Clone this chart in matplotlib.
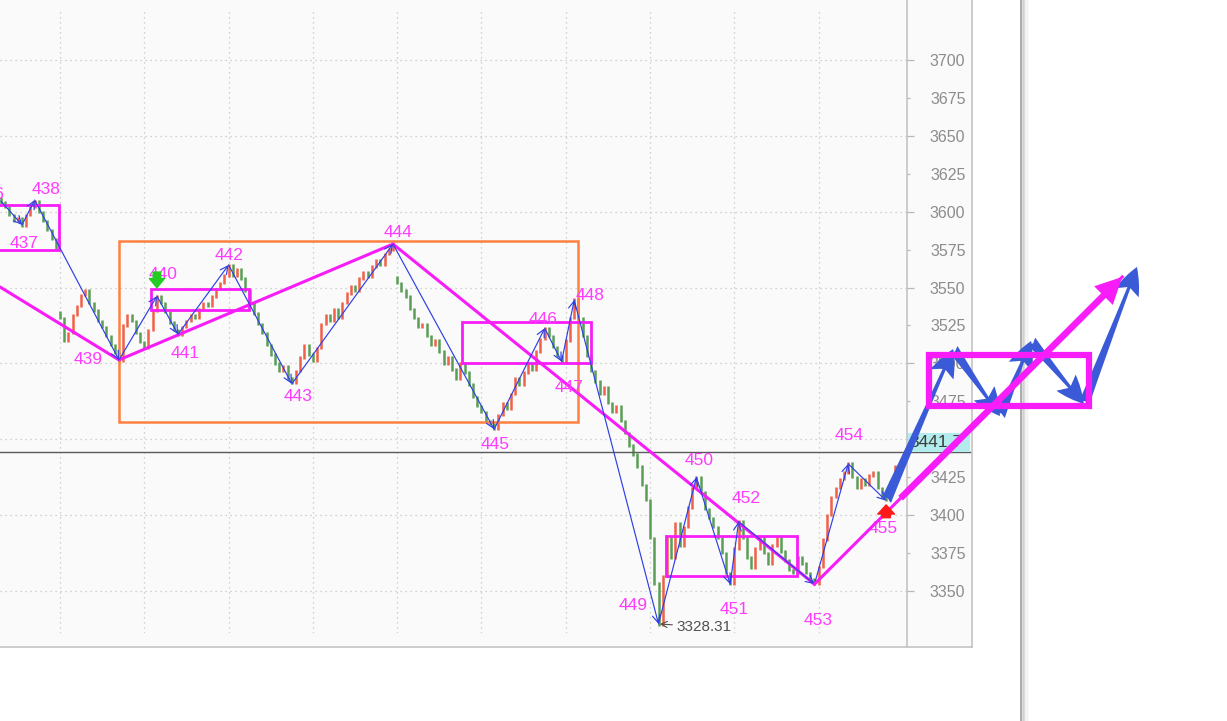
import numpy as np
import matplotlib
matplotlib.use('Agg')
import matplotlib.pyplot as plt
from matplotlib.patches import Rectangle, FancyArrowPatch
import matplotlib.transforms as mtransforms
from matplotlib.ticker import FuncFormatter

plt.rcParams['font.family'] = ['Liberation Sans', 'DejaVu Sans']

# ---------------- data ----------------
first_bar = -4
closes = [3606, 3603, 3598, 3594, 3596, 3591, 3598, 3603, 3607,
          3600, 3594, 3588, 3582, 3576, 3530, 3515, 3520, 3532, 3538, 3545, 3548, 3540, 3535, 3528, 3524, 3518, 3512, 3507, 3502,
          3525, 3532, 3528, 3520, 3514, 3510, 3522, 3535, 3544,
          3540, 3534, 3527, 3522, 3519,
          3524, 3528, 3532, 3530, 3536, 3540, 3538, 3544, 3549, 3553, 3558, 3565,
          3558, 3562, 3556, 3548, 3540, 3533, 3526, 3520, 3512, 3506, 3500, 3495, 3498, 3490, 3487,
          3495, 3504, 3512, 3506, 3502, 3510, 3526, 3532, 3528, 3536, 3530, 3540, 3546, 3551, 3548, 3556, 3560, 3557, 3564, 3568, 3565, 3572, 3575, 3579,
          3553, 3548, 3544, 3536, 3530, 3524, 3526, 3518, 3512, 3515, 3508, 3500, 3504, 3496, 3490, 3500, 3494, 3486, 3478, 3472, 3468, 3462, 3460, 3457,
          3466, 3474, 3470, 3480, 3490, 3486, 3494, 3500, 3496, 3508, 3516, 3523,
          3518, 3511, 3505, 3501,
          3515, 3530, 3542,
          3530, 3518, 3505, 3495, 3488, 3480, 3484, 3474, 3468, 3472, 3462, 3454, 3446, 3440, 3432, 3420, 3410, 3385, 3355, 3328,
          3360, 3385, 3372, 3395, 3380, 3392, 3405, 3418, 3425,
          3415, 3404, 3398, 3392, 3385, 3375, 3362, 3355,
          3378, 3396,
          3385, 3372, 3365, 3378, 3385, 3375, 3368, 3380, 3385, 3376, 3370, 3364, 3362, 3372, 3368, 3362, 3358, 3355,
          3366, 3384, 3400, 3412, 3418, 3424, 3428, 3434,
          3425, 3418, 3424, 3420, 3426, 3428, 3418, 3412, 3410,
          3422, 3432]
first_open = 3609
gap_opens = {10: 3534, 90: 3557}

pivot_labels = ['436', '437', '438', '439', '440', '441', '442', '443', '444', '445',
                '446', '447', '448', '449', '450', '451', '452', '453', '454', '455']
pivot_bars = [-4, 1, 4, 24, 33, 38, 50, 65, 89, 113, 125, 129, 132, 152, 161, 169, 171, 189, 197, 206]
pivot_prices = [3607.0, 3591.3, 3607.7, 3502.3, 3544.4, 3519.2, 3564.9, 3486.5, 3578.7, 3456.6,
                3523.2, 3501.2, 3541.8, 3328.31, 3424.9, 3354.5, 3395.7, 3354.5, 3433.8, 3409.5]
# label offsets in pixels (right, up)
label_dx = [-11, 2, 11, -31, 6, 7, 0, 6, 5, 1, -2, 7, 16, -25, 3, 4, 8, 4, 1, -3]
label_dy = [7, -18.5, 11, 0, 22, -19, 9, -13, 12, -15, 9, -26, 5, 18, 17, -25, 23, -36, 28, -28]

# higher degree zigzag (magenta)
trend_bars = [-4.23, 24, 89, 189]
trend_prices = [3550.4, 3502.3, 3578.7, 3354.5]
trend_proj_bar, trend_proj_price = 262.0, 3557.0

# projected path (blue arrows)
proj_bars = [206, 221.9, 233.0, 240.4, 252.9, 265.5]
proj_prices = [3409.5, 3509.5, 3465.3, 3514.8, 3473.3, 3563.6]

# boxes: (left bar, right bar, bottom price, top price)
orange_box = (24, 133, 3461.4, 3580.7)
mag_boxes = [(-8, 9.8, 3574.8, 3604.4),
             (31.6, 54.8, 3535.2, 3549.1),
             (105.3, 135.9, 3500.5, 3527.5),
             (153.8, 184.8, 3359.9, 3386.3)]
proj_box = (216.2, 254.1, 3471.9, 3505.6)

last_price = 3441.7
low_label = '3328.31'
grid_bars = [10, 30, 50, 70, 90, 110, 130, 150, 170, 190]
hidden_ticks = [3450]

# ---------------- style ----------------
MAG = '#F81CF8'
MAG_TXT = '#FF3CFF'
BLUE = '#2F3FE6'
BLUE2 = '#3A5AD7'
ORANGE = '#FF8040'
UP = '#F0604A'
DOWN = '#5A9E55'

W, H = 1227, 721
fig = plt.figure(figsize=(W / 100, H / 100), dpi=100)

# background / frame
bg = fig.add_axes([0, 0, 1, 1], zorder=0)
bg.set_xlim(0, W)
bg.set_ylim(H, 0)
bg.axis('off')
bg.add_patch(Rectangle((0, 0), 972, 647, facecolor='#FAFAFA', edgecolor='none'))
bg.plot([972, 972], [0, 647], color='#C4C4C4', lw=1.2)
bg.plot([0, 972], [647, 647], color='#C4C4C4', lw=1.2)
bg.plot([907, 907], [0, 647], color='#C4C4C4', lw=1.2)
bg.plot([1021, 1021], [0, H], color='#A4A4A4', lw=1.3)
for k, a in enumerate([0.45, 0.3, 0.2, 0.12, 0.06]):
    bg.plot([1022.5 + k * 1.4] * 2, [0, H], color='#A0A0A0', alpha=a, lw=1.1)

ax = fig.add_axes([0, 1 - 633 / H, 907 / W, 623 / H], zorder=1)
ax.set_facecolor('none')
ax.set_xlim(-4.23, 210.95)
ax.set_ylim(3322.31, 3732.96)
for s in ax.spines.values():
    s.set_visible(False)
ax.set_xticks(grid_bars)
ax.tick_params(axis='x', length=0, labelbottom=False)
ax.yaxis.tick_right()
ax.set_yticks(np.arange(3350, 3701, 50))
ax.set_yticks(np.arange(3375, 3700, 50), minor=True)
fmt = FuncFormatter(lambda v, pos: '' if int(round(v)) in hidden_ticks else '%d' % round(v))
ax.yaxis.set_major_formatter(fmt)
ax.yaxis.set_minor_formatter(fmt)
ax.tick_params(axis='y', which='major', length=5, width=0.9, color='#B8B8B8',
               pad=11.5, labelsize=11.5, labelcolor='#8C8C8C')
ax.tick_params(axis='y', which='minor', length=2.2, width=0.9, color='#B8B8B8',
               pad=14.4, labelsize=11.5, labelcolor='#8C8C8C')
ax.grid(True, which='major', color='#C4C4C4', ls=(0, (1, 3)), lw=0.9)

# candles
bars = np.arange(first_bar, first_bar + len(closes))
opens = [first_open] + closes[:-1]
for b, g in gap_opens.items():
    opens[b - first_bar] = g
lo = np.minimum(opens, closes)
hi = np.maximum(opens, closes)
cols = [UP if c >= o else DOWN for o, c in zip(opens, closes)]
ax.vlines(bars, lo - 0.8, hi + 0.8, colors=cols, lw=1.8, zorder=2)

# last price line
blend = mtransforms.blended_transform_factory(ax.transAxes, ax.transData)
ax.plot([0, 970 / 907], [last_price, last_price], color='#5A5A5A', lw=1.0,
        transform=blend, clip_on=False, zorder=3)
ax.add_patch(Rectangle((908 / 907, last_price), 62 / 907, 12.6, transform=blend,
                       facecolor='#B2ECEC', edgecolor='none', clip_on=False, zorder=5))
ax.text(909 / 907, last_price + 6.3, f'{last_price}', transform=blend, ha='left', va='center',
        fontsize=12.5, color='#3C3C3C', clip_on=False, zorder=5)

# orange box
l, r, b_, t = orange_box
ax.add_patch(Rectangle((l, b_), r - l, t - b_, fill=False, edgecolor=ORANGE, lw=1.8, zorder=3))
# magenta boxes
for l, r, b_, t in mag_boxes:
    ax.add_patch(Rectangle((l, b_), r - l, t - b_, fill=False, edgecolor=MAG, lw=2.0, zorder=3))

# higher degree magenta trend
ax.plot(trend_bars, trend_prices, color=MAG, lw=2.2, zorder=4, solid_capstyle='round')
ax.plot([trend_bars[-1], trend_proj_bar], [trend_prices[-1], trend_proj_price], color=MAG, lw=2.2,
        zorder=6, clip_on=False)
frac = 0.28
sb = trend_bars[-1] + frac * (trend_proj_bar - trend_bars[-1])
sp = trend_prices[-1] + frac * (trend_proj_price - trend_prices[-1])
ax.add_patch(FancyArrowPatch((sb, sp), (trend_proj_bar, trend_proj_price),
                             arrowstyle='simple,head_length=1.0,head_width=1.0,tail_width=0.25',
                             mutation_scale=19, color=MAG, lw=0, shrinkA=0, shrinkB=0,
                             clip_on=False, zorder=7))

# blue zigzag with small arrows
for i in range(len(pivot_bars) - 1):
    ax.annotate('', xy=(pivot_bars[i + 1], pivot_prices[i + 1]),
                xytext=(pivot_bars[i], pivot_prices[i]),
                arrowprops=dict(arrowstyle='->,head_length=0.55,head_width=0.28', color=BLUE,
                                lw=0.85, shrinkA=0, shrinkB=0),
                zorder=4, annotation_clip=False)

# pivot labels
for lab, b, p, dx, dy in zip(pivot_labels, pivot_bars, pivot_prices, label_dx, label_dy):
    ax.annotate(lab, xy=(b, p), xytext=(dx, dy), textcoords='offset pixels',
                ha='center', va='center', fontsize=12.5, color=MAG_TXT, zorder=5,
                annotation_clip=False)

# low price annotation
ax.annotate(low_label, xy=(pivot_bars[13], pivot_prices[13]), xytext=(18, -3),
            textcoords='offset pixels', ha='left', va='center', fontsize=11, color='#505050',
            arrowprops=dict(arrowstyle='->,head_length=0.4,head_width=0.2', color='#505050',
                            lw=0.8, shrinkA=1, shrinkB=1), zorder=5)

# signal markers
ax.annotate('', xy=(pivot_bars[4], pivot_prices[4]), xytext=(0, 24), textcoords='offset pixels',
            arrowprops=dict(arrowstyle='simple,head_length=0.55,head_width=0.9,tail_width=0.45',
                            color='#22CC22', shrinkA=0, shrinkB=6, mutation_scale=12), zorder=6)
ax.annotate('', xy=(pivot_bars[19], pivot_prices[19]), xytext=(0, -17), textcoords='offset pixels',
            arrowprops=dict(arrowstyle='simple,head_length=0.55,head_width=1.0,tail_width=0.5',
                            color='#FF1A1A', shrinkA=0, shrinkB=3, mutation_scale=12), zorder=6)

# projected blue arrows
for i in range(len(proj_bars) - 1):
    ax.add_patch(FancyArrowPatch((proj_bars[i], proj_prices[i]), (proj_bars[i + 1], proj_prices[i + 1]),
                                 arrowstyle='fancy,head_length=1.05,head_width=0.95,tail_width=0.4',
                                 mutation_scale=19, color=BLUE2, lw=0, shrinkA=0, shrinkB=0,
                                 clip_on=False, zorder=6))

# projected box
l, r, b_, t = proj_box
ax.add_patch(Rectangle((l, b_), r - l, t - b_, fill=False, edgecolor=MAG, lw=4.5,
                       clip_on=False, zorder=8))

fig.savefig('out.png', dpi=100)
